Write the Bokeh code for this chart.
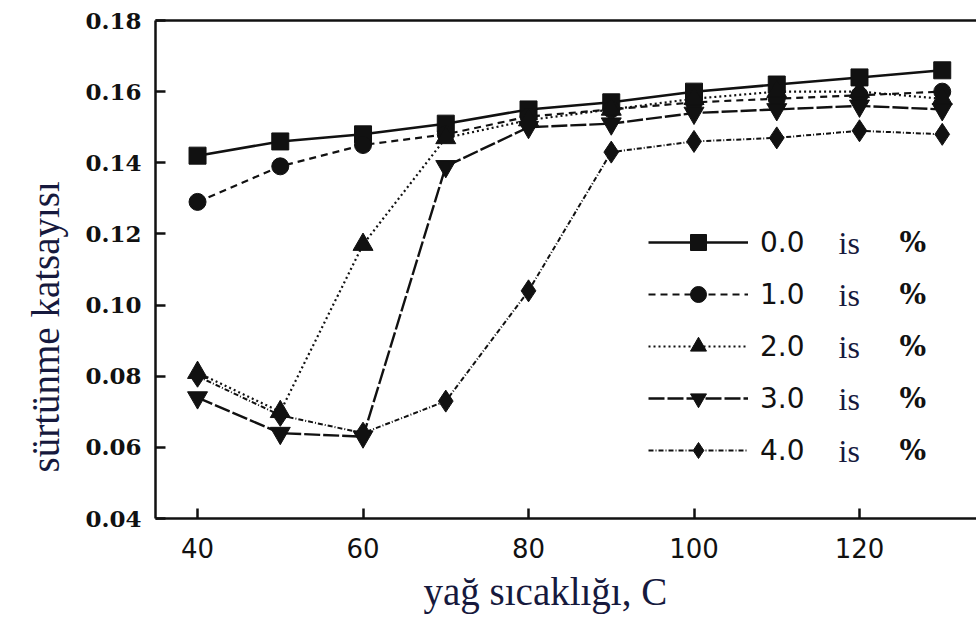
from bokeh.plotting import figure
from bokeh.models import (Range1d, FixedTicker, PrintfTickFormatter, LinearAxis,
                          Legend, LegendItem, Label, Title)
from bokeh.embed import file_html
from bokeh.resources import INLINE

# Oil temperature (C) and friction coefficient for each additive share
temps = [40, 50, 60, 70, 80, 90, 100, 110, 120, 130]
s00 = [0.142, 0.146, 0.148, 0.151, 0.155, 0.157, 0.160, 0.162, 0.164, 0.166]
s10 = [0.129, 0.139, 0.145, 0.148, 0.153, 0.155, 0.157, 0.158, 0.159, 0.160]
s20 = [0.081, 0.070, 0.117, 0.147, 0.152, 0.155, 0.158, 0.160, 0.160, 0.158]
s30 = [0.074, 0.064, 0.063, 0.139, 0.150, 0.151, 0.154, 0.155, 0.156, 0.155]
s40 = [0.080, 0.069, 0.064, 0.073, 0.104, 0.143, 0.146, 0.147, 0.149, 0.148]

series_names = ["0.0", "1.0", "2.0", "3.0", "4.0"]
y_ticks = [0.04, 0.06, 0.08, 0.10, 0.12, 0.14, 0.16, 0.18]
x_ticks = [40, 60, 80, 100, 120]

INK = "#111111"
NAVY = "#16193d"

p = figure(width=976, height=630, output_backend="svg", toolbar_location=None,
           x_range=Range1d(34.92, 134.14), y_range=Range1d(0.04, 0.18),
           min_border_left=155, min_border_right=0, min_border_top=20,
           min_border_bottom=112, x_axis_location="below")
p.grid.visible = False
p.outline_line_color = None
p.background_fill_color = "white"
p.border_fill_color = "white"

for ax in (p.xaxis[0], p.yaxis[0]):
    ax.axis_line_width = 2.5
    ax.axis_line_color = INK
    ax.major_tick_line_width = 2.5
    ax.major_tick_line_color = INK
    ax.major_tick_in = 10
    ax.major_tick_out = 0
    ax.minor_tick_line_color = None
    ax.major_label_text_color = INK

p.yaxis.ticker = FixedTicker(ticks=y_ticks)
p.yaxis.formatter = PrintfTickFormatter(format="%.2f")
p.yaxis.major_label_text_font = "DejaVu Serif"
p.yaxis.major_label_text_font_style = "bold"
p.yaxis.major_label_text_font_size = "23px"
p.yaxis.major_label_standoff = 14

p.xaxis.ticker = FixedTicker(ticks=x_ticks)
p.xaxis.major_label_text_font = "DejaVu Sans"
p.xaxis.major_label_text_font_size = "26px"
p.xaxis.major_label_standoff = 19

# top border line
top = LinearAxis(ticker=FixedTicker(ticks=[]), axis_line_width=2.5, axis_line_color=INK,
                 major_tick_line_color=None, minor_tick_line_color=None,
                 major_label_text_font_size="0px", major_label_standoff=0)
p.add_layout(top, "above")

styles = [
    (s00, "solid", "square", 17, 2.5),
    (s10, "7 5", "circle", 17, 2.2),
    (s20, "2 3", "triangle", 20, 2.2),
    (s30, "16 3", "inverted_triangle", 20, 2.4),
    (s40, "5 2 1 2", "diamond", 22, 2.0),
]

items = []
for name, (vals, dash, marker, size, lw) in zip(series_names, styles):
    ln = p.line(temps, vals, line_color=INK, line_width=lw, line_dash=dash)
    sc = p.scatter(temps, vals, marker=marker, size=size, fill_color=INK, line_color=INK)
    items.append(LegendItem(label=name, renderers=[ln, sc]))

legend = Legend(items=items, location=(493, 48), orientation="vertical",
                glyph_width=100, glyph_height=40, label_height=30, spacing=12,
                label_standoff=12, padding=0, margin=0,
                label_text_font="DejaVu Sans", label_text_font_size="28px",
                label_text_color=INK, border_line_color=None,
                background_fill_alpha=0)
p.add_layout(legend, "center")

# trailing "is  %" words of each legend row
row_y = [276, 224, 172, 120, 68]
for ry in row_y:
    p.add_layout(Label(x=683, y=ry, x_units="screen", y_units="screen", text="is",
                       text_font="Liberation Serif", text_font_size="32px",
                       text_color=NAVY, text_align="left", text_baseline="middle"))
    p.add_layout(Label(x=744, y=ry, x_units="screen", y_units="screen", text="%",
                       text_font="DejaVu Serif", text_font_style="bold",
                       text_font_size="28px", text_color=INK,
                       text_align="left", text_baseline="middle"))

# axis titles
p.add_layout(Title(text="sürtünme katsayısı", align="left", offset=46, standoff=32,
                   text_font="Liberation Serif", text_font_size="39px",
                   text_font_style="normal", text_color=NAVY), "left")
p.add_layout(Title(text="yağ sıcaklığı, C", align="left", offset=268, standoff=15,
                   text_font="Liberation Serif", text_font_size="39px",
                   text_font_style="normal", text_color=NAVY), "below")

open("out.html", "w").write(file_html(p, INLINE))
